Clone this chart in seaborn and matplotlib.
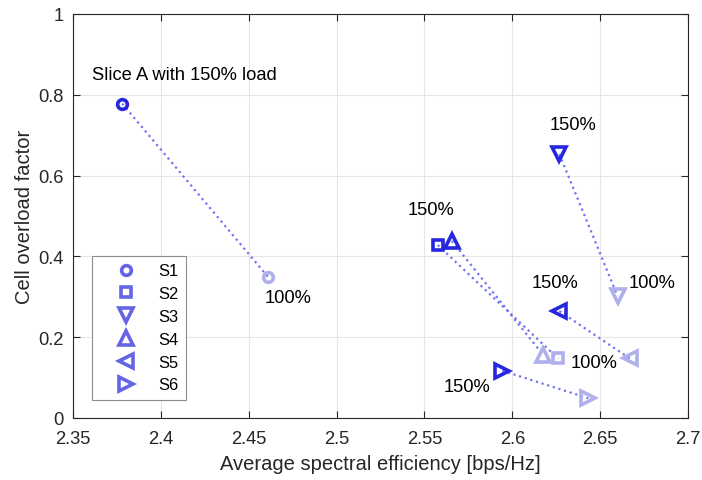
import matplotlib
matplotlib.use('Agg')
import matplotlib.pyplot as plt
import seaborn as sns
import pandas as pd
from matplotlib.lines import Line2D

# ---- data ----
slices = ['S1', 'S2', 'S3', 'S4', 'S5', 'S6']
slice_markers = ['o', 's', 'v', '^', '<', '>']
marker_sizes = [7, 6.5, 9.5, 9.5, 9.5, 9.5]
x_150 = [2.378, 2.5576, 2.6268, 2.5656, 2.6268, 2.5943]
y_150 = [0.778, 0.428, 0.653, 0.438, 0.2645, 0.117]
x_100 = [2.461, 2.626, 2.6599, 2.6176, 2.6668, 2.6433]
y_100 = [0.349, 0.1475, 0.302, 0.156, 0.1475, 0.0487]

ann_text = ['Slice A with 150% load', '100%', '150%', '150%', '100%', '150%', '100%', '150%']
ann_x = [2.3608, 2.4593, 2.5405, 2.6210, 2.6660, 2.6112, 2.6330, 2.5610]
ann_y = [0.850, 0.299, 0.517, 0.727, 0.336, 0.336, 0.138, 0.078]

x_ticks = [2.35, 2.4, 2.45, 2.5, 2.55, 2.6, 2.65, 2.7]
x_tick_labels = ['2.35', '2.4', '2.45', '2.5', '2.55', '2.6', '2.65', '2.7']
y_ticks = [0, 0.2, 0.4, 0.6, 0.8, 1]
y_tick_labels = ['0', '0.2', '0.4', '0.6', '0.8', '1']

# ---- style ----
DARK = '#2626E0'
LIGHT = '#B0B0EB'
LINE = '#7373F2'
LEG = '#6464E4'
AX = '#262626'

sns.set_style('whitegrid')
plt.rcParams['font.family'] = ['Liberation Sans', 'DejaVu Sans']

fig = plt.figure(figsize=(7.02, 4.81), dpi=100)
ax = fig.add_axes([0.104, 0.129, 0.876, 0.840])

for i in range(len(slices)):
    seg = pd.DataFrame({'x': [x_150[i], x_100[i]], 'y': [y_150[i], y_100[i]]})
    sns.lineplot(data=seg, x='x', y='y', sort=False, estimator=None, ax=ax,
                 color=LINE, linestyle=':', linewidth=1.6, zorder=2)

for i in range(len(slices)):
    sns.lineplot(x=[x_100[i]], y=[y_100[i]], ax=ax, linestyle='', marker=slice_markers[i],
                 markersize=marker_sizes[i], markerfacecolor='none', markeredgecolor=LIGHT,
                 markeredgewidth=2.6, color=LIGHT, zorder=3)
    sns.lineplot(x=[x_150[i]], y=[y_150[i]], ax=ax, linestyle='', marker=slice_markers[i],
                 markersize=marker_sizes[i], markerfacecolor='none', markeredgecolor=DARK,
                 markeredgewidth=2.6, color=DARK, zorder=4)

for t, tx, ty in zip(ann_text, ann_x, ann_y):
    ax.text(tx, ty, t, ha='left', va='center', fontsize=13.2, color='black', zorder=5)

ax.set_xlim(2.35, 2.7)
ax.set_ylim(0, 1)
ax.set_xticks(x_ticks)
ax.set_xticklabels(x_tick_labels)
ax.set_yticks(y_ticks)
ax.set_yticklabels(y_tick_labels)
ax.set_xlabel('Average spectral efficiency [bps/Hz]', fontsize=14.5, color=AX, labelpad=5)
ax.set_ylabel('Cell overload factor', fontsize=14.5, color=AX, labelpad=3)
ax.tick_params(axis='both', which='both', direction='in', length=5, width=0.8,
               colors=AX, labelsize=13.2, top=True, right=True, bottom=True, left=True,
               labelcolor=AX)
ax.tick_params(axis='x', pad=9)
ax.tick_params(axis='y', pad=7)
ax.grid(True, color='#E6E6E6', linewidth=0.8)
ax.set_facecolor('white')
for sp in ax.spines.values():
    sp.set_visible(True)
    sp.set_color(AX)
    sp.set_linewidth(0.8)

handles = [Line2D([], [], linestyle='', marker=m, markersize=ms, markerfacecolor='none',
                  markeredgecolor=LEG, markeredgewidth=2.6)
           for m, ms in zip(slice_markers, marker_sizes)]
leg = ax.legend(handles, slices, loc='lower left', bbox_to_anchor=(0.031, 0.045),
                borderaxespad=0, fontsize=11.9, frameon=True, fancybox=False,
                edgecolor='#8C8C8C', framealpha=1, labelspacing=0.47,
                handlelength=3.2, handletextpad=0.35, borderpad=0.45)
leg.get_frame().set_linewidth(0.8)
for t in leg.get_texts():
    t.set_color('black')

fig.savefig('out.png', dpi=100)
